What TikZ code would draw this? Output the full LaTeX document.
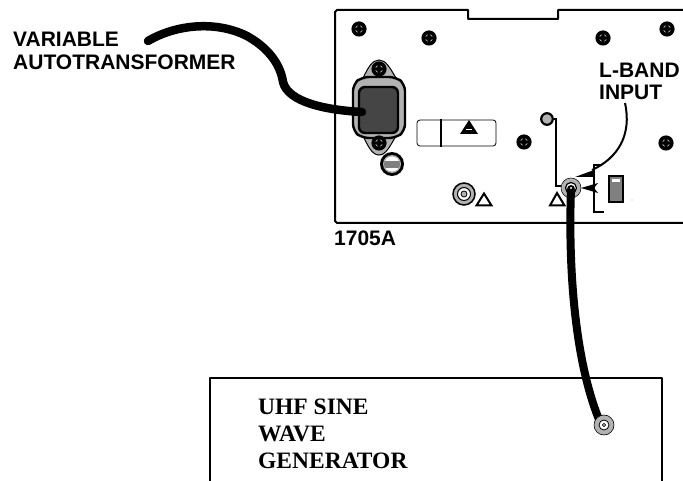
\documentclass[tikz,border=0pt]{standalone}
\usepackage{fontspec}
\setmainfont{Liberation Serif}
\setsansfont{Liberation Sans}
\usetikzlibrary{arrows.meta,calc}
\definecolor{panelgray}{gray}{0.70}
\definecolor{darkgray}{gray}{0.27}
\tikzset{
  panelline/.style={line width=2pt,line join=round},
  cable/.style={line width=8.5pt,line cap=round},
  sanslabel/.style={font=\sffamily\bfseries\fontsize{21}{22}\selectfont,inner sep=0pt,anchor=west},
  seriflabel/.style={font=\rmfamily\bfseries\fontsize{23.5}{27}\selectfont,inner sep=0pt,anchor=west},
  opentri/.style={line width=2pt,line join=miter},
}
\newcommand{\panelscrew}[1]{
  \fill[black] (#1) circle (7.6);
  \draw[panelgray,line width=0.6pt] (#1) circle (3.6);
  \draw[black,line width=1.2pt] ($(#1)+(-4.5,0)$) -- ($(#1)+(4.5,0)$);
  \draw[black,line width=1.2pt] ($(#1)+(0,-4.5)$) -- ($(#1)+(0,4.5)$);
}
\begin{document}
\begin{tikzpicture}[x=1pt,y=-1pt]
\useasboundingbox (0,0) rectangle (683,481);
\draw[panelline] (683,10) -- (558,10) -- (558,19) -- (468,19) -- (468,10) -- (337,10) -- (335,12) -- (335,221) -- (337,223) -- (683,223);
\panelscrew{359,29}
\panelscrew{429,38}
\panelscrew{603,38}
\panelscrew{667,29}
\panelscrew{524,142}
\panelscrew{666,143}
% power socket
\draw[line width=1pt,fill=panelgray] (363,78) .. controls (368,68) and (372,60) .. (379,60) .. controls (386,60) and (390,68) .. (396,78) -- cycle;
\draw[line width=1pt,fill=panelgray] (363,136) .. controls (368,146) and (372,155) .. (379,155) .. controls (386,155) and (390,146) .. (396,136) -- cycle;
\draw[line width=2.4pt,fill=panelgray,rounded corners=7pt] (353,84) -- (362,77) -- (396,77) -- (405,84) -- (405,131) -- (396,138) -- (362,138) -- (353,131) -- cycle;
\draw[line width=2.4pt,fill=darkgray,rounded corners=6pt] (359,87) -- (398,87) -- (398,133) -- (359,133) -- cycle;
\panelscrew{379,69}
\panelscrew{379,143}
\fill[black] (392,164) circle (12);
\fill[panelgray] (392,164) circle (9);
\fill[white] (392,164) circle (7.5);
\begin{scope}
\clip (392,164) circle (8);
\fill[gray] (380,161) rectangle (404,168);
\end{scope}
% label plate
\draw[line width=0.8pt,rounded corners=3pt] (417,120) -- (496,120) -- (496,146) -- (417,146) -- cycle;
\draw[line width=1.3pt] (441,119) -- (441,147);
\fill[black] (469,120) -- (478,134) -- (460,134) -- cycle;
\draw[white,line width=0.6pt] (466,129) -- (472,129);
% bnc left
\draw[line width=1.5pt,fill=panelgray] (464,194) circle (11);
\draw[line width=1pt,fill=white] (464,194) circle (6.5);
\draw[line width=0.8pt,fill=panelgray] (464,194) circle (3);
\draw[opentri] (484,193.5) -- (491.5,205.5) -- (476.5,205.5) -- cycle;
% input bnc group
\draw[line width=2.2pt,fill=panelgray] (547,119) circle (5.8);
\draw[line width=2pt] (552.5,119) -- (556,119) -- (556,186) -- (561,186);
\draw[opentri] (557,193) -- (564.5,205.5) -- (550,205.5) -- cycle;
\fill[panelgray,draw=black,line width=0.5pt] (571,188) circle (10);
\draw[line width=1.2pt,fill=white] (571,188) circle (5.5);
\draw[line width=2pt] (604,212) -- (594,212) -- (594,165) -- (601,165);
\fill[black] (575,177) -- (594,170) -- (594,177) -- cycle;
\fill[black] (581,188) -- (598,183) -- (594,188) -- (598,193) -- cycle;
\draw[line width=2pt] (625,103) .. controls (632,135) and (618,158) .. (592,170);
\draw[line width=2pt,fill=gray] (609,176.5) rectangle (623,202);
\fill[white] (612,179) rectangle (620,182);
\fill[black] (632,200) circle (0.4);
% cables
\coordinate (acend) at (148,41);
\coordinate (acplug) at (362,112);
\coordinate (rfin) at (571,190);
\coordinate (rfout) at (600,422);
\draw[cable] (acend) .. controls (175,25) and (215,20) .. (247,36) .. controls (272,50) and (281,68) .. (283,82) .. controls (288,102) and (325,110) .. (acplug);
\draw[line width=8pt] (rfin) .. controls (569,240) and (570,350) .. (rfout);
\fill[black] (571,189) circle (4);
\fill[white] (571,188) circle (1.2);
% generator
\draw[panelline] (210,481) -- (210,378) -- (662,378) -- (662,481);
\fill[panelgray,draw=black,line width=0.6pt] (604,425) circle (10);
\draw[line width=0.8pt,fill=white] (604,425) circle (5);
\draw[line width=0.8pt] (604,425) circle (1.6);
% labels
\node[sanslabel] (variablelabel) at (13,39) {VARIABLE};
\node[sanslabel] (autolabel) at (13,62) {AUTOTRANSFORMER};
\node[sanslabel] (bandlabel) at (599,70) {L-BAND};
\node[sanslabel] (inputlabel) at (599,92) {INPUT};
\node[sanslabel] (modellabel) at (334,238) {1705A};
\node[seriflabel] (uhflabel) at (258,407) {UHF SINE};
\node[seriflabel] (wavelabel) at (258,434) {WAVE};
\node[seriflabel] (genlabel) at (258,461) {GENERATOR};
\end{tikzpicture}
\end{document}
